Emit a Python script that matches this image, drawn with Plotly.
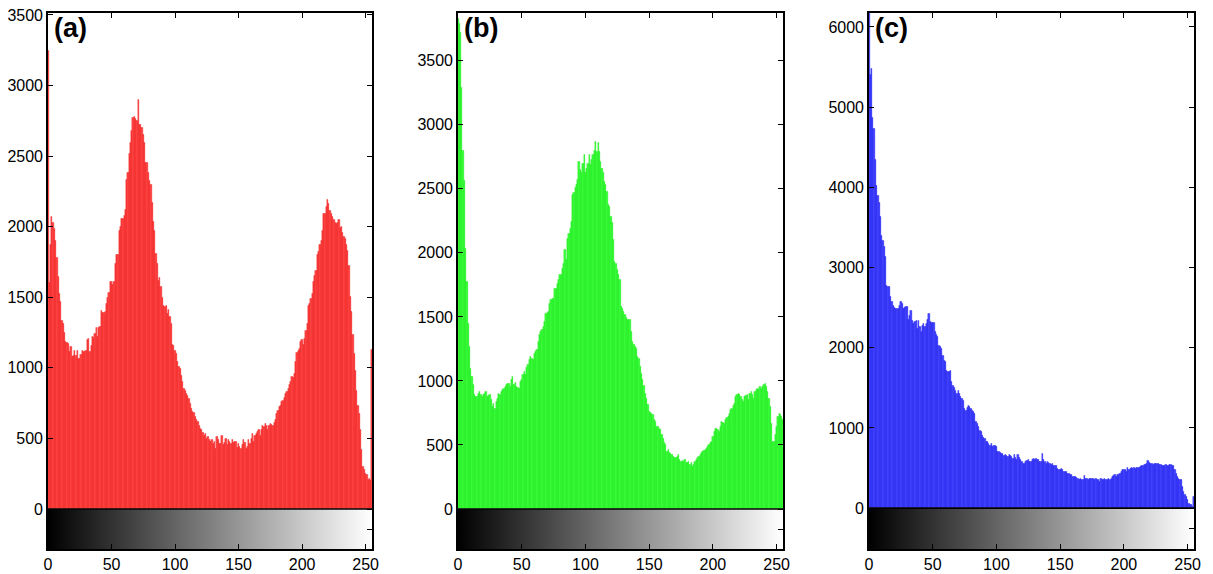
import numpy as np
import plotly.graph_objects as go

# ---------------- data ----------------
levels = list(range(256))

red_counts = [
    3250, 1600, 1874, 2071, 2030, 1984, 1902, 1784, 1643, 1525,
    1466, 1336, 1313, 1247, 1183, 1178, 1170, 1112, 1147, 1077,
    1089, 1124, 1083, 1120, 1068, 1068, 1095, 1120, 1112, 1112,
    1124, 1200, 1207, 1112, 1159, 1218, 1211, 1241, 1285, 1224,
    1285, 1290, 1402, 1393, 1388, 1395, 1455, 1495, 1535, 1614,
    1607, 1590, 1607, 1737, 1803, 1803, 1973, 2000, 2055, 2055,
    2079, 2119, 2333, 2385, 2517, 2597, 2680, 2771, 2780, 2765,
    2750, 2899, 2722, 2722, 2700, 2650, 2597, 2455, 2455, 2380,
    2326, 2300, 2173, 2039, 1973, 1812, 1737, 1619, 1640, 1576,
    1496, 1442, 1436, 1442, 1383, 1414, 1360, 1313, 1164, 1159,
    1124, 1100, 1041, 1006, 994, 947, 900, 855, 841, 818,
    806, 780, 747, 712, 690, 681, 653, 630, 617, 590,
    570, 559, 540, 523, 535, 500, 510, 488, 476, 488,
    465, 475, 429, 512, 494, 465, 465, 518, 453, 470,
    500, 459, 494, 480, 465, 494, 470, 476, 476, 436,
    465, 445, 429, 453, 494, 470, 429, 441, 488, 465,
    500, 535, 476, 523, 535, 546, 559, 523, 560, 594,
    582, 606, 590, 559, 594, 606, 600, 594, 612, 630,
    676, 700, 723, 735, 759, 770, 790, 818, 830, 853,
    880, 905, 940, 930, 960, 1041, 1105, 1120, 1136, 1183,
    1200, 1166, 1207, 1260, 1313, 1442, 1454, 1490, 1525, 1607,
    1650, 1690, 1803, 1820, 1870, 1902, 1973, 2090, 2090, 2140,
    2190, 2162, 2114, 2095, 2070, 2048, 2031, 2020, 2030, 2048,
    1991, 2001, 1960, 1930, 1914, 1870, 1827, 1726, 1501, 1395,
    1237, 1100, 983, 841, 735, 676, 559, 417, 300, 280,
    252, 240, 205, 217, 200, 1130,
]

green_counts = [
    3830, 3790, 3720, 3290, 2800, 2560, 2036, 1775, 1450, 1268,
    1099, 1034, 969, 891, 878, 880, 904, 917, 890, 878,
    891, 904, 917, 878, 885, 891, 852, 800, 820, 787,
    839, 865, 904, 891, 920, 930, 943, 956, 969, 982,
    978, 956, 1008, 1034, 969, 984, 956, 945, 940, 995,
    1008, 1047, 1073, 1047, 1100, 1125, 1164, 1190, 1170, 1164,
    1216, 1230, 1242, 1307, 1359, 1385, 1400, 1424, 1463, 1528,
    1535, 1541, 1606, 1632, 1640, 1645, 1723, 1723, 1760, 1788,
    1827, 1827, 1880, 1918, 2023, 1945, 2114, 2150, 2192, 2244,
    2453, 2466, 2505, 2531, 2570, 2713, 2648, 2622, 2700, 2765,
    2622, 2661, 2700, 2765, 2687, 2726, 2765, 2800, 2869, 2791,
    2860, 2791, 2713, 2660, 2622, 2557, 2531, 2479, 2375, 2362,
    2284, 2232, 2100, 1932, 1918, 1866, 1830, 1788, 1580, 1567,
    1540, 1515, 1497, 1476, 1476, 1476, 1385, 1307, 1281, 1270,
    1255, 1190, 1177, 1112, 1060, 1008, 960, 904, 865, 813,
    761, 755, 748, 735, 700, 683, 644, 640, 630, 618,
    579, 553, 520, 501, 449, 462, 436, 430, 423, 410,
    397, 404, 410, 423, 384, 371, 375, 371, 384, 358,
    365, 371, 345, 358, 332, 350, 371, 384, 398, 410,
    423, 436, 449, 455, 462, 475, 488, 501, 515, 527,
    566, 600, 631, 625, 618, 605, 644, 683, 676, 670,
    696, 710, 722, 748, 774, 787, 805, 826, 878, 891,
    904, 890, 878, 852, 839, 878, 885, 891, 852, 904,
    917, 890, 865, 917, 930, 943, 930, 956, 943, 956,
    969, 982, 956, 917, 860, 800, 670, 527, 527, 580,
    644, 722, 748, 740, 720, 700,
]

blue_counts = [
    6200, 5403, 5474, 4864, 4727, 4341, 4021, 3900, 3814, 3635,
    3399, 3330, 3262, 3129, 2776, 2766, 2756, 2631, 2569, 2527,
    2500, 2486, 2486, 2486, 2520, 2569, 2548, 2486, 2500, 2507,
    2507, 2349, 2400, 2465, 2341, 2299, 2320, 2341, 2237, 2341,
    2260, 2195, 2278, 2299, 2258, 2300, 2349, 2424, 2320, 2315,
    2310, 2310, 2195, 2160, 2133, 2029, 2008, 1987, 1900, 1842,
    1822, 1718, 1705, 1697, 1718, 1573, 1531, 1500, 1469, 1427,
    1469, 1428, 1386, 1365, 1345, 1241, 1220, 1250, 1282, 1262,
    1241, 1220, 1200, 1179, 1075, 1054, 1010, 971, 950, 909,
    880, 867, 826, 826, 800, 784, 805, 764, 784, 775,
    764, 701, 701, 690, 681, 681, 648, 660, 650, 639,
    660, 650, 639, 618, 660, 630, 598, 660, 631, 598,
    580, 556, 556, 577, 590, 598, 577, 577, 600, 618,
    598, 618, 598, 598, 577, 577, 681, 600, 577, 556,
    577, 560, 556, 535, 548, 530, 523, 523, 494, 480,
    473, 494, 473, 452, 460, 452, 431, 425, 415, 411,
    390, 390, 390, 380, 369, 349, 369, 360, 349, 398,
    369, 369, 360, 369, 369, 369, 369, 360, 369, 360,
    349, 328, 369, 349, 360, 369, 349, 360, 369, 349,
    369, 390, 400, 411, 390, 411, 411, 430, 452, 473,
    473, 481, 452, 506, 473, 490, 506, 494, 506, 494,
    500, 506, 506, 515, 523, 523, 535, 540, 548, 585,
    564, 555, 548, 535, 556, 556, 552, 548, 535, 535,
    530, 523, 523, 535, 523, 530, 535, 535, 530, 523,
    473, 431, 390, 369, 360, 349, 266, 203, 170, 141,
    100, 58, 45, 37, 17, 141,
]

x_tickvals = [0, 50, 100, 150, 200, 250]
x_ticktext = ["0", "50", "100", "150", "200", "250"]

red_ytickvals = [0, 500, 1000, 1500, 2000, 2500, 3000, 3500]
green_ytickvals = [0, 500, 1000, 1500, 2000, 2500, 3000, 3500]
blue_ytickvals = [0, 1000, 2000, 3000, 4000, 5000, 6000]

panel_labels = ["(a)", "(b)", "(c)"]
y_upper = [3516, 3875, 6177]
y_lower = [-283, -312, -510]

assert len(red_counts) == 256 and len(green_counts) == 256 and len(blue_counts) == 256

# ---------------- figure ----------------
W, H = 1213, 574
x_domains = [[48 / W, 372 / W], [458 / W, 783 / W], [869 / W, 1194 / W]]
y_domain = [1 - 549 / H, 1 - 12.7 / H]

fills = ["rgb(255,72,72)", "rgb(60,255,60)", "rgb(72,72,255)"]
edges = ["rgb(235,0,0)", "rgb(0,225,0)", "rgb(0,0,235)"]
counts_all = [red_counts, green_counts, blue_counts]
yticks_all = [red_ytickvals, green_ytickvals, blue_ytickvals]

lev = np.array(levels)
x_edges = np.append(lev, lev[-1] + 1) - 0.5

FONT = "Liberation Sans, Arial, Helvetica, sans-serif"

fig = go.Figure()
layout = dict(
    template="none",
    width=W, height=H, autosize=False, margin=dict(l=0, r=0, t=0, b=0, pad=0),
    paper_bgcolor="white", plot_bgcolor="white", showlegend=False,
    bargap=0, barmode="overlay",
    font=dict(family=FONT, size=16, color="black"),
)
annotations = []
shapes = []

for i in range(3):
    sfx = "" if i == 0 else str(i + 1)
    xa, ya = "x" + sfx, "y" + sfx
    lo, hi = y_lower[i], y_upper[i]

    fig.add_trace(go.Heatmap(
        x=x_edges, y=[lo, 0], z=[levels], zmin=0, zmax=255,
        colorscale=[[0, "black"], [1, "white"]], showscale=False,
        hoverinfo="skip", xaxis=xa, yaxis=ya))
    fig.add_trace(go.Bar(
        x=levels, y=counts_all[i], width=1,
        marker=dict(color=fills[i], line=dict(color=edges[i], width=0.35)),
        xaxis=xa, yaxis=ya))

    yt = yticks_all[i]
    layout["xaxis" + sfx] = dict(
        domain=x_domains[i], anchor=ya, range=[0, 255], automargin=False,
        tickvals=x_tickvals, ticktext=x_ticktext,
        ticks="inside", ticklen=5, tickwidth=1.2, tickcolor="black",
        showline=True, linecolor="black", linewidth=1.6, mirror="ticks",
        showgrid=False, zeroline=False, layer="above traces",
        tickfont=dict(family=FONT, size=16, color="black"))
    layout["yaxis" + sfx] = dict(
        domain=y_domain, anchor=xa, range=[lo, hi], automargin=False,
        tickvals=yt + [lo / 2], ticktext=[str(v) for v in yt] + [""],
        ticks="inside", ticklen=5, tickwidth=1.2, tickcolor="black",
        showline=True, linecolor="black", linewidth=1.6, mirror="ticks",
        showgrid=False, zeroline=False, layer="above traces",
        tickfont=dict(family=FONT, size=16, color="black"))

    shapes.append(dict(type="line", xref=xa + " domain", yref=ya,
                       x0=0, x1=1, y0=0, y1=0, layer="above",
                       line=dict(color="black", width=1.6)))
    annotations.append(dict(
        text="<b>" + panel_labels[i] + "</b>", xref=xa + " domain", yref=ya + " domain",
        x=0.012, y=1.003, xanchor="left", yanchor="top", showarrow=False,
        font=dict(family=FONT, size=27, color="black")))

layout["annotations"] = annotations
layout["shapes"] = shapes
fig.update_layout(**layout)
fig.write_html("out.html")
